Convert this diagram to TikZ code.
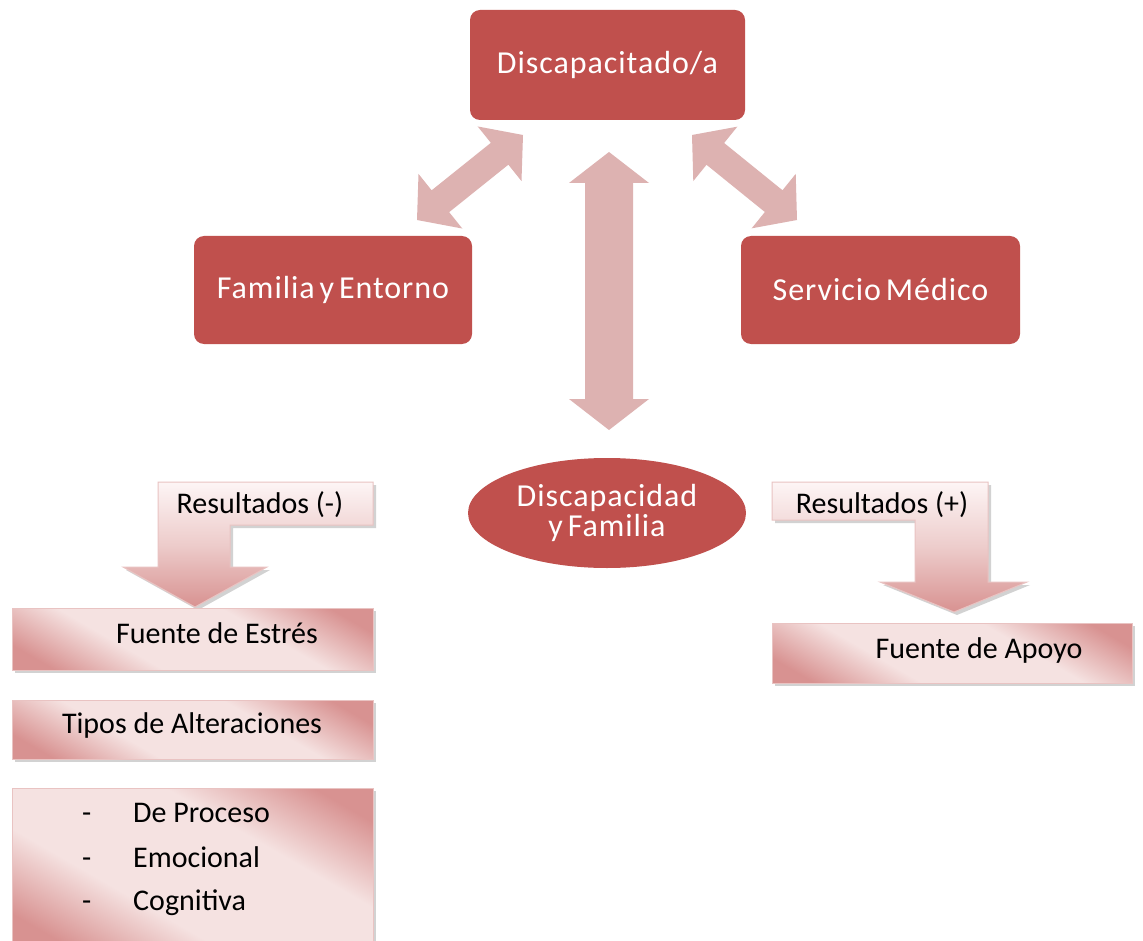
\documentclass[tikz,border=0pt]{standalone}
\usepackage{fontspec}
\setmainfont{Carlito}
\newfontfamily\redfont[LetterSpace=3,WordSpace=0.6]{Carlito}
\usetikzlibrary{shapes.geometric,shadows,calc}
\definecolor{redbox}{HTML}{C0504D}
\definecolor{parrow}{HTML}{DDB2B1}
\definecolor{gdark}{HTML}{D89291}
\definecolor{glight}{HTML}{F5E2E1}
\definecolor{gmid}{HTML}{EDCCCB}
\definecolor{gedge}{HTML}{E9C3C2}
\definecolor{gwhite}{HTML}{FDF5F5}
\pgfdeclarehorizontalshading{pinkband}{100bp}{color(0bp)=(gdark); color(22bp)=(gdark); color(38bp)=(glight); color(62bp)=(glight); color(78bp)=(gdark); color(100bp)=(gdark)}
\newcommand\blockarrow[5]{%
  \coordinate (Ah) at ($(#1)!#5!(#2)$);
  \coordinate (Bh) at ($(#2)!#5!(#1)$);
  \fill[parrow] (#1) -- ($(Ah)!#4!90:(#2)$) -- ($(Ah)!#3!90:(#2)$)
    -- ($(Bh)!#3!-90:(#1)$) -- ($(Bh)!#4!-90:(#1)$) -- (#2)
    -- ($(Bh)!#4!90:(#1)$) -- ($(Bh)!#3!90:(#1)$)
    -- ($(Ah)!#3!-90:(#2)$) -- ($(Ah)!#4!-90:(#2)$) -- cycle;}
\tikzset{
  redrect/.style={fill=redbox, rounded corners=10pt, text=white, inner sep=0pt,
    font=\redfont\fontsize{32}{32}\selectfont},
  gradbox/.style={shading=pinkband, shading angle=60, draw=gedge, line width=1pt,
    drop shadow={shadow xshift=3pt, shadow yshift=-3pt, opacity=0.35, fill=gray},
    inner sep=0pt},
  gtxt/.style={text=black, inner sep=0pt, font=\fontsize{30}{30}\selectfont, anchor=center},
  ltxt/.style={text=black, inner sep=0pt, font=\fontsize{30}{30}\selectfont, anchor=base west},
  bentarrow/.style={top color=gwhite, bottom color=gdark, middle color=gmid, draw=gedge, line width=1pt,
    drop shadow={shadow xshift=3pt, shadow yshift=-3pt, opacity=0.35, fill=gray}}
}
\begin{document}
\begin{tikzpicture}[x=1pt, y=-1pt]
\useasboundingbox (0,0) rectangle (1143,941);
\fill[white] (0,0) rectangle (1143,941);
% top nodes
\node[redrect, minimum width=275pt, minimum height=110pt] (dis) at (607.5,65) {Discapacitado/a};
\node[redrect, minimum width=278pt, minimum height=108pt] (fam) at (333,290) {Familia y Entorno};
\node[redrect, minimum width=279pt, minimum height=108pt] (ser) at (880.5,290) {Servicio Médico};
\node[ellipse, fill=redbox, text=white, minimum width=278pt, minimum height=110pt, inner sep=0pt,
  align=center, font=\redfont\fontsize{32}{30}\selectfont] (df) at (607,513) {Discapacidad\\y Familia};
% block arrows
\coordinate (vt) at (609,152);
\coordinate (vb) at (609,430);
\coordinate (lt) at (523,135);
\coordinate (lb) at (417,220);
\coordinate (rt) at (692,135);
\coordinate (rb) at (797,220);
\blockarrow{vt}{vb}{24pt}{40pt}{31pt}
\blockarrow{lt}{lb}{14pt}{35pt}{30pt}
\blockarrow{rt}{rb}{14pt}{35pt}{30pt}
% bent arrows
\path[bentarrow] (158,482) -- (373,482) -- (373,525) -- (230,525) -- (230,567) -- (267,567)
  -- (195,607) -- (123,567) -- (158,567) -- cycle;
\node[gtxt] (rn) at (260,505) {Resultados (-)};
\path[bentarrow] (772,482) -- (988,482) -- (988,582) -- (1027,582) -- (954,612) -- (880,582)
  -- (915,582) -- (915,520) -- (772,520) -- cycle;
\node[gtxt] (rp) at (882,505) {Resultados (+)};
% gradient boxes
\node[gradbox, minimum width=361pt, minimum height=62pt] (est) at (192.5,639) {};
\node[gtxt] (estt) at (217,633) {Fuente de Estrés};
\node[gradbox, minimum width=361pt, minimum height=59pt] (tip) at (192.5,729.5) {};
\node[gtxt] (tipt) at (192,725) {Tipos de Alteraciones};
\node[gradbox, minimum width=361pt, minimum height=160pt] (lst) at (192.5,868) {};
\node[ltxt] (d1) at (82,822) {-};
\node[ltxt] (i1) at (133,822) {De Proceso};
\node[ltxt] (d2) at (82,867) {-};
\node[ltxt] (i2) at (133,867) {Emocional};
\node[ltxt] (d3) at (82,910) {-};
\node[ltxt] (i3) at (133,910) {Cognitiva};
\node[gradbox, minimum width=360pt, minimum height=60pt] (apo) at (952,653) {};
\node[gtxt] (apot) at (979,650) {Fuente de Apoyo};
\end{tikzpicture}
\end{document}
